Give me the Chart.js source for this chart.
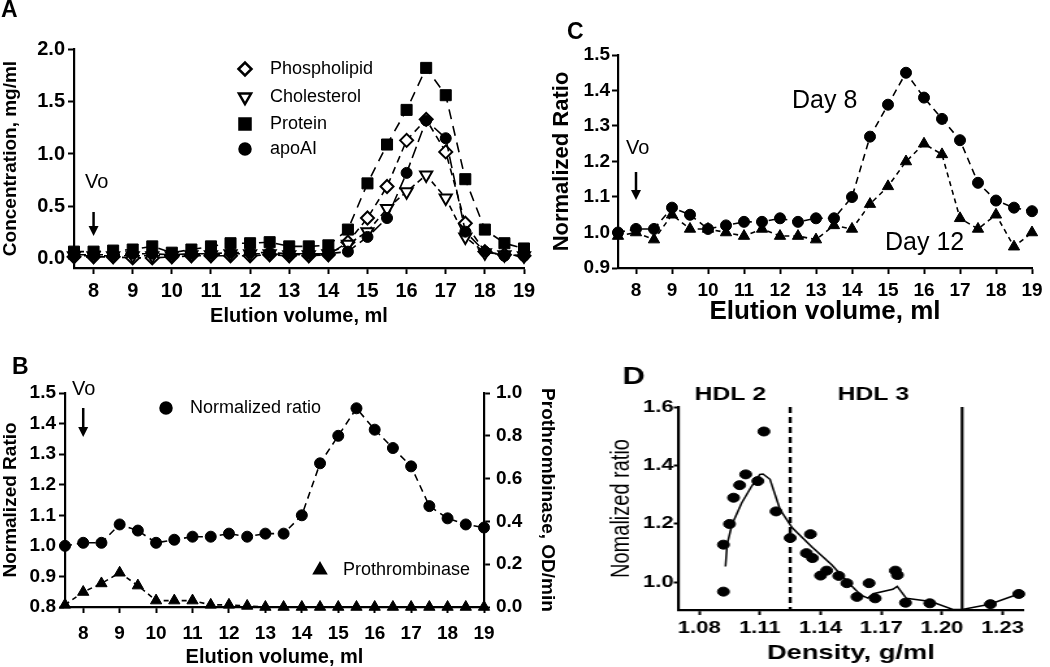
<!DOCTYPE html>
<html>
<head>
<meta charset="utf-8">
<script src="https://cdn.jsdelivr.net/npm/chart.js@4.4.1/dist/chart.umd.min.js"></script>
<style>
  html, body { margin: 0; padding: 0; background: #fff; }
  body { width: 1050px; height: 667px; position: relative; overflow: hidden; }
  .full { position: absolute; left: 0; top: 0; }
  #wrapD { position: absolute; left: 560px; top: 360px; width: 377px; height: 307px;
           transform: scaleX(1.3); transform-origin: 0 0; }
  #wrapD canvas { position: absolute; left: 0; top: 0; }
</style>
</head>
<body>
<canvas id="chartA" class="full" width="1050" height="667"></canvas>
<canvas id="chartB" class="full" width="1050" height="667"></canvas>
<canvas id="chartC" class="full" width="1050" height="667"></canvas>
<div id="wrapD"><canvas id="chartD" width="377" height="307"></canvas></div>
<script>
const FONT = "'Liberation Sans', Arial, Helvetica, sans-serif";
Chart.defaults.font.family = FONT;
Chart.defaults.color = '#000';

// elution fractions (ml)
const elution = [7.5, 8, 8.5, 9, 9.5, 10, 10.5, 11, 11.5, 12, 12.5, 13, 13.5, 14, 14.5, 15, 15.5, 16, 16.5, 17, 17.5, 18, 18.5, 19];
const elutionTicks = [8, 9, 10, 11, 12, 13, 14, 15, 16, 17, 18, 19];

// panel A, mg/ml
const phospholipid = [0.02, 0.02, 0.02, 0.01, 0.01, 0.02, 0.03, 0.03, 0.03, 0.03, 0.04, 0.03, 0.03, 0.04, 0.16, 0.39, 0.69, 1.13, 1.33, 1.02, 0.34, 0.07, 0.04, 0.03];
const cholesterol = [0.03, 0.03, 0.03, 0.03, 0.03, 0.03, 0.04, 0.04, 0.05, 0.05, 0.05, 0.04, 0.04, 0.05, 0.14, 0.26, 0.48, 0.64, 0.80, 0.58, 0.21, 0.06, 0.04, 0.03];
const protein = [0.07, 0.07, 0.08, 0.09, 0.12, 0.06, 0.09, 0.12, 0.15, 0.15, 0.16, 0.12, 0.12, 0.13, 0.28, 0.72, 1.09, 1.42, 1.82, 1.56, 0.76, 0.28, 0.15, 0.10];
const apoAI = [0.04, 0.04, 0.04, 0.05, 0.05, 0.04, 0.05, 0.05, 0.06, 0.06, 0.06, 0.05, 0.05, 0.05, 0.07, 0.21, 0.39, 0.82, 1.32, 1.15, 0.26, 0.07, 0.03, 0.03];
const ticksA = [0, 0.5, 1.0, 1.5, 2.0];

// panel B
const normRatio = [1.00, 1.01, 1.01, 1.07, 1.05, 1.01, 1.02, 1.03, 1.03, 1.04, 1.03, 1.04, 1.04, 1.10, 1.27, 1.36, 1.45, 1.38, 1.32, 1.26, 1.13, 1.09, 1.07, 1.06];
const prothrombinase = [0.01, 0.07, 0.11, 0.16, 0.10, 0.03, 0.03, 0.03, 0.01, 0.01, 0.005, 0, 0, 0, 0, 0, 0, 0, 0, 0, 0, 0, 0, 0];
const ticksBLeft = [0.8, 0.9, 1.0, 1.1, 1.2, 1.3, 1.4, 1.5];
const ticksBRight = [0, 0.2, 0.4, 0.6, 0.8, 1.0];

// panel C
const day8 = [1.00, 1.01, 1.01, 1.07, 1.05, 1.01, 1.02, 1.03, 1.03, 1.04, 1.03, 1.04, 1.04, 1.10, 1.27, 1.36, 1.45, 1.38, 1.32, 1.26, 1.14, 1.09, 1.07, 1.06];
const day12 = [0.99, 1.00, 0.98, 1.05, 1.01, 1.01, 1.00, 0.99, 1.01, 0.99, 0.99, 0.98, 1.02, 1.01, 1.08, 1.13, 1.20, 1.25, 1.22, 1.04, 1.01, 1.05, 0.96, 1.00];
const ticksC = [0.9, 1.0, 1.1, 1.2, 1.3, 1.4, 1.5];

// panel D
const density = [1.092, 1.092, 1.095, 1.097, 1.100, 1.103, 1.109, 1.112, 1.118, 1.125, 1.135, 1.133, 1.136, 1.140, 1.143, 1.149, 1.153, 1.158, 1.164, 1.167, 1.177, 1.178, 1.182, 1.194, 1.224, 1.238];
const ratioD = [0.967, 1.128, 1.199, 1.289, 1.332, 1.369, 1.346, 1.516, 1.242, 1.151, 1.164, 1.099, 1.082, 1.022, 1.039, 1.021, 0.996, 0.949, 0.996, 0.944, 1.039, 1.024, 0.929, 0.927, 0.924, 0.959];
const fitDensity = [1.093, 1.0938, 1.0962, 1.101, 1.106, 1.110, 1.1115, 1.115, 1.120, 1.126, 1.1355, 1.1455, 1.1534, 1.160, 1.1634, 1.166, 1.1757, 1.1779, 1.1824, 1.1946, 1.2054, 1.210, 1.2236, 1.2379];
const fitRatio = [1.053, 1.128, 1.197, 1.271, 1.329, 1.369, 1.370, 1.352, 1.248, 1.186, 1.122, 1.059, 1.000, 0.955, 0.945, 0.960, 0.975, 0.985, 0.944, 0.933, 0.906, 0.906, 0.924, 0.959];
const ticksDX = [1.08, 1.11, 1.14, 1.17, 1.20, 1.23];
const ticksDY = [1.0, 1.2, 1.4, 1.6];

const pts = (xs, ys) => xs.map((x, i) => ({x: x, y: ys[i]}));

function axis(o) {
  return {
    type: 'linear', position: o.position, min: o.min, max: o.max,
    afterBuildTicks: s => { s.ticks = o.ticks.map(v => ({value: v})); },
    afterFit: s => { if (s.isHorizontal()) s.height = o.size; else s.width = o.size; },
    ticks: {
      color: '#000', autoSkip: false, maxRotation: 0, padding: o.tickPad,
      font: {family: FONT, size: o.tickSize, weight: 'bold'},
      callback: v => v.toFixed(o.dec)
    },
    grid: {drawOnChartArea: false, drawTicks: true, tickLength: o.tickLen || 6, tickColor: '#000', tickWidth: 2},
    border: {display: true, color: '#000', width: 2.2},
    title: {
      display: true, text: o.title, color: '#000', padding: 0,
      font: {family: FONT, size: o.titleSize, weight: o.titleWeight || 'bold', lineHeight: 1}
    }
  };
}

function series(data, style, filled, dash, r, rot, yAxisID) {
  return {
    data: data, showLine: dash !== null, borderColor: '#000', borderWidth: 1.6,
    borderDash: dash || [], pointStyle: style, pointRadius: r, pointRotation: rot || 0,
    pointBackgroundColor: filled ? '#000' : '#fff', pointBorderColor: '#000',
    pointBorderWidth: filled ? 1 : 2, clip: false, yAxisID: yAxisID || 'y'
  };
}

function marker(ctx, style, filled, r, rot, x, y) {
  ctx.save();
  ctx.fillStyle = filled ? '#000' : '#fff';
  ctx.strokeStyle = '#000';
  ctx.setLineDash([]);
  Chart.helpers.drawPoint(ctx, {pointStyle: style, radius: r, rotation: rot || 0, borderWidth: filled ? 1 : 2}, x, y);
  ctx.restore();
}

const notes = {
  id: 'notes',
  afterDatasetsDraw(chart, args, opts) {
    const ctx = chart.ctx;
    const sx = chart.scales.x, sy = chart.scales.y;
    ctx.save();
    ctx.strokeStyle = '#000';
    ctx.fillStyle = '#000';
    (opts.vlines || []).forEach(l => {
      const x = sx.getPixelForValue(l.at);
      ctx.beginPath();
      ctx.setLineDash(l.dash);
      ctx.lineWidth = l.width;
      ctx.moveTo(x, sy.getPixelForValue(l.from));
      ctx.lineTo(x, sy.getPixelForValue(l.to));
      ctx.stroke();
    });
    ctx.setLineDash([]);
    (opts.arrows || []).forEach(a => {
      const x = sx.getPixelForValue(a.at);
      ctx.beginPath();
      ctx.lineWidth = 2.5;
      ctx.moveTo(x, a.y1);
      ctx.lineTo(x, a.y2 - 8);
      ctx.stroke();
      ctx.beginPath();
      ctx.moveTo(x - 5, a.y2 - 10);
      ctx.lineTo(x + 5, a.y2 - 10);
      ctx.lineTo(x, a.y2);
      ctx.closePath();
      ctx.fill();
    });
    (opts.keys || []).forEach(k => marker(ctx, k.style, k.filled, k.r, k.rot, k.x, k.y));
    (opts.texts || []).forEach(t => {
      ctx.fillStyle = '#000';
      ctx.font = (t.bold ? 'bold ' : '') + t.size + 'px ' + FONT;
      ctx.textAlign = t.align || 'left';
      ctx.textBaseline = 'middle';
      ctx.fillText(t.text, t.x, t.y);
    });
    ctx.restore();
  }
};

const base = {
  responsive: false, animation: false, devicePixelRatio: 1,
  plugins: {legend: {display: false}, tooltip: {enabled: false}}
};

// ---------- A ----------
new Chart(document.getElementById('chartA'), {
  type: 'scatter',
  data: {datasets: [
    series(pts(elution, apoAI), 'circle', true, [12, 5], 5.5),
    series(pts(elution, protein), 'rect', true, [10, 7], 7.8),
    series(pts(elution, cholesterol), 'triangle', false, [6, 4], 7, 180),
    series(pts(elution, phospholipid), 'rectRot', false, [7, 5], 6.5)
  ]},
  options: Object.assign({}, base, {
    layout: {padding: {left: 1, top: 49, right: 526, bottom: 341}},
    scales: {
      x: axis({position: 'bottom', min: 7.5, max: 19, ticks: elutionTicks, dec: 0, size: 58, tickPad: 5, tickSize: 20, title: 'Elution volume, ml', titleSize: 20}),
      y: axis({position: 'left', min: -0.086, max: 2.0, ticks: ticksA, dec: 1, size: 73, tickPad: 3, tickSize: 20, title: 'Concentration, mg/ml', titleSize: 19})
    },
    plugins: Object.assign({}, base.plugins, {notes: {
      arrows: [{at: 8, y1: 212, y2: 236}],
      keys: [
        {style: 'rectRot', filled: false, r: 6.5, x: 245, y: 69},
        {style: 'triangle', filled: false, r: 7, rot: 180, x: 245, y: 97},
        {style: 'rect', filled: true, r: 7.8, x: 245, y: 124},
        {style: 'circle', filled: true, r: 5.5, x: 245, y: 149}
      ],
      texts: [
        {text: 'A', x: 1, y: 11, size: 23, bold: true},
        {text: 'Vo', x: 85, y: 182, size: 20},
        {text: 'Phospholipid', x: 270, y: 69, size: 18},
        {text: 'Cholesterol', x: 270, y: 97, size: 18},
        {text: 'Protein', x: 270, y: 124, size: 18},
        {text: 'apoAI', x: 270, y: 149, size: 18}
      ]
    }})
  }),
  plugins: [notes]
});

// ---------- B ----------
new Chart(document.getElementById('chartB'), {
  type: 'scatter',
  data: {datasets: [
    series(pts(elution, normRatio), 'circle', true, [7, 5], 5.5, 0, 'y'),
    series(pts(elution, prothrombinase), 'triangle', true, [5, 4], 6.5, 0, 'y2')
  ]},
  options: Object.assign({}, base, {
    layout: {padding: {left: 1, top: 393, right: 493, bottom: 0}},
    scales: {
      x: axis({position: 'bottom', min: 7.5, max: 19, ticks: elutionTicks, dec: 0, size: 60, tickPad: 9, tickSize: 19, title: 'Elution volume, ml', titleSize: 20}),
      y: axis({position: 'left', min: 0.8, max: 1.5, ticks: ticksBLeft, dec: 1, size: 64, tickPad: 3, tickSize: 19, title: 'Normalized Ratio', titleSize: 19}),
      y2: axis({position: 'right', min: 0, max: 1.0, ticks: ticksBRight, dec: 1, size: 73, tickPad: 6, tickSize: 19, title: 'Prothrombinase, OD/min', titleSize: 19})
    },
    plugins: Object.assign({}, base.plugins, {notes: {
      arrows: [{at: 8, y1: 408, y2: 437}],
      keys: [
        {style: 'circle', filled: true, r: 5.5, x: 166, y: 408},
        {style: 'triangle', filled: true, r: 6.5, x: 320, y: 570}
      ],
      texts: [
        {text: 'B', x: 12, y: 368, size: 23, bold: true},
        {text: 'Vo', x: 72, y: 389, size: 20},
        {text: 'Normalized ratio', x: 190, y: 408, size: 18},
        {text: 'Prothrombinase', x: 343, y: 570, size: 18}
      ]
    }})
  }),
  plugins: [notes]
});

// ---------- C ----------
new Chart(document.getElementById('chartC'), {
  type: 'scatter',
  data: {datasets: [
    series(pts(elution, day8), 'circle', true, [7, 5], 5.5),
    series(pts(elution, day12), 'triangle', true, [5, 4], 6.5)
  ]},
  options: Object.assign({}, base, {
    layout: {padding: {left: 551, top: 55, right: 18, bottom: 342}},
    scales: {
      x: axis({position: 'bottom', min: 7.5, max: 19, ticks: elutionTicks, dec: 0, size: 57, tickPad: 5, tickSize: 19, title: 'Elution volume, ml', titleSize: 26}),
      y: axis({position: 'left', min: 0.9, max: 1.5, ticks: ticksC, dec: 1, size: 67, tickPad: 2, tickSize: 19, title: 'Normalized Ratio', titleSize: 22})
    },
    plugins: Object.assign({}, base.plugins, {notes: {
      arrows: [{at: 8, y1: 172, y2: 200}],
      texts: [
        {text: 'C', x: 567, y: 33, size: 23, bold: true},
        {text: 'Vo', x: 626, y: 148, size: 20},
        {text: 'Day 8', x: 792, y: 101, size: 25},
        {text: 'Day 12', x: 885, y: 243, size: 25}
      ]
    }})
  }),
  plugins: [notes]
});

// ---------- D ----------
const dotsD = series(pts(density, ratioD), 'circle', true, null, 4.5);
const fitD = series(pts(fitDensity, fitRatio), 'circle', false, [], 0);
fitD.borderWidth = 1.5;
new Chart(document.getElementById('chartD'), {
  type: 'scatter',
  data: {datasets: [dotsD, fitD]},
  options: Object.assign({}, base, {
    layout: {padding: {left: 37, top: 47, right: 21, bottom: 3}},
    scales: {
      x: axis({position: 'bottom', min: 1.07, max: 1.24, ticks: ticksDX, dec: 2, size: 54, tickPad: 3, tickLen: 5, tickSize: 17, title: 'Density, g/ml', titleSize: 21}),
      y: axis({position: 'left', min: 0.904, max: 1.6, ticks: ticksDY, dec: 1, size: 54.5, tickPad: 0, tickLen: 4, tickSize: 17, title: 'Nomalized ratio', titleSize: 20, titleWeight: 'normal'})
    },
    plugins: Object.assign({}, base.plugins, {notes: {
      vlines: [
        {at: 1.125, from: 1.6, to: 0.904, dash: [6, 4], width: 2.4},
        {at: 1.210, from: 1.6, to: 0.904, dash: [], width: 2.2}
      ],
      texts: [
        {text: 'D', x: 48, y: 17, size: 24, bold: true},
        {text: 'HDL 2', x: 131, y: 35, size: 19, bold: true, align: 'center'},
        {text: 'HDL 3', x: 241, y: 35, size: 19, bold: true, align: 'center'}
      ]
    }})
  }),
  plugins: [notes]
});
</script>
</body>
</html>
